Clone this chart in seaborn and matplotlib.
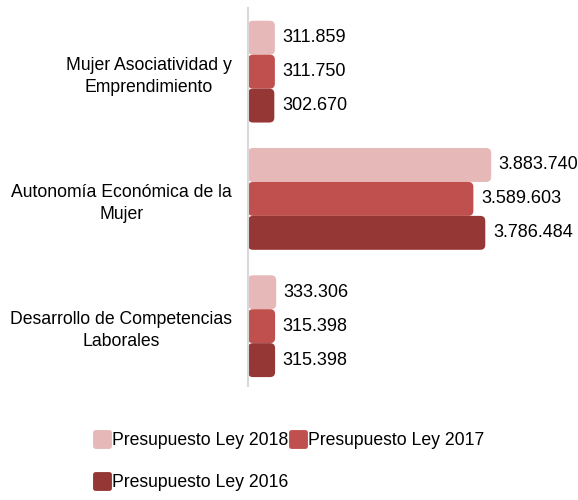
import pandas as pd
import seaborn as sns
import matplotlib.pyplot as plt
from matplotlib.patches import FancyBboxPatch
from matplotlib.lines import Line2D
from matplotlib.markers import MarkerStyle

# data
categories = ["Mujer Asociatividad y Emprendimiento",
              "Autonomía Económica de la Mujer",
              "Desarrollo de Competencias Laborales"]
tick_labels = ["Mujer Asociatividad y\nEmprendimiento",
               "Autonomía Económica de la\nMujer",
               "Desarrollo de Competencias\nLaborales"]
series = ["Presupuesto Ley 2018", "Presupuesto Ley 2017", "Presupuesto Ley 2016"]
ley_2018 = [311859, 3883740, 333306]
ley_2017 = [311750, 3589603, 315398]
ley_2016 = [302670, 3786484, 315398]
colors = ["#E6B9B8", "#C0504D", "#953735"]

df = pd.DataFrame({
    "Programa": categories * 3,
    "Serie": [s for s in series for _ in categories],
    "Monto": ley_2018 + ley_2017 + ley_2016,
})

sns.set_style("white")
plt.rcParams['font.family'] = ['Liberation Sans', 'DejaVu Sans']
plt.rcParams['text.color'] = 'black'

fig = plt.figure(figsize=(5.78, 5), dpi=100)
ax = fig.add_axes([248 / 578, 0.228, 307 / 578, 0.756])

sns.barplot(data=df, y="Programa", x="Monto", hue="Serie", hue_order=series,
            order=categories, palette=colors, orient="h", width=0.8,
            legend=False, ax=ax)

xmax = 5.07e6
ax.set_xlim(0, xmax)
ax.set_ylim(2.47, -0.5)

# units per pixel, for rounded corners
ux = xmax / 307
uy = 2.97 / 378

for cont, col in zip(ax.containers, colors):
    for rect in cont:
        x, y = rect.get_xy()
        w, h = rect.get_width(), rect.get_height()
        rect.remove()
        box = FancyBboxPatch((x, y), w + 8 * ux, h,
                             boxstyle=f"round,pad=0,rounding_size={5 * ux}",
                             mutation_aspect=uy / ux,
                             facecolor=col, edgecolor="none", clip_on=True)
        ax.add_patch(box)
        ax.annotate(f"{int(w):,}".replace(",", "."), (w + 8 * ux, y + h / 2),
                    xytext=(5.5, 0), textcoords="offset points",
                    ha="left", va="center", fontsize=13, color="black")

ax.set_yticks(range(len(categories)))
ax.set_yticklabels(tick_labels, fontsize=12.7, color="black")
for lab in ax.get_yticklabels():
    lab.set_multialignment("center")
    lab.set_linespacing(1.4)
ax.tick_params(axis="y", length=0, pad=11.5)
ax.set_xticks([])
ax.set_xlabel("")
ax.set_ylabel("")
for s in ["top", "right", "bottom"]:
    ax.spines[s].set_visible(False)
ax.spines["left"].set_color("#d9d9d9")
ax.spines["left"].set_linewidth(1.5)

handles = [Line2D([], [], linestyle="", color=c,
                  marker=MarkerStyle("s", joinstyle="round"),
                  markersize=9.5, markeredgewidth=3.5)
           for c in colors]
# legend fills column-wise, so reorder to read 2018, 2017 / 2016 by rows
order = [0, 2, 1]
fig.legend([handles[i] for i in order], [series[i] for i in order],
           loc="upper left", bbox_to_anchor=(93 / 578, 1 - 432 / 500), ncol=2,
           frameon=False, fontsize=12.7, handlelength=1.0,
           handletextpad=0.05, columnspacing=0.1, labelspacing=1.42,
           borderpad=0, borderaxespad=0)

fig.savefig("out.png", dpi=100)
